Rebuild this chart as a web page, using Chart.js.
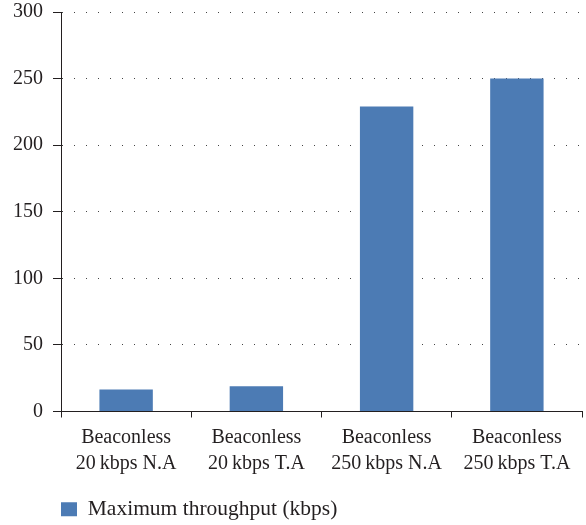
<!DOCTYPE html>
<html>
<head>
<meta charset="utf-8">
<script src="https://cdn.jsdelivr.net/npm/chart.js@4/dist/chart.umd.min.js"></script>
<style>
  html, body { margin: 0; padding: 0; background: #fff; }
  #wrap { width: 586px; height: 525px; position: relative; }
</style>
</head>
<body>
<div id="wrap"><canvas id="chart"></canvas></div>
<script>
// categories (two lines each) and the one series
const categories = [
	['Beaconless', '20\u2009kbps N.A'],
	['Beaconless', '20\u2009kbps T.A'],
	['Beaconless', '250\u2009kbps N.A'],
	['Beaconless', '250\u2009kbps T.A']
]
const seriesName = 'Maximum throughput (kbps)'
const throughput = [16.5, 19, 229, 250]
const yTicks = [0, 50, 100, 150, 200, 250, 300]

const ink = '#231f20'
const barBlue = '#4c7bb4'
const serif = '"Liberation Serif", "Times New Roman", serif'

const ctx = document.getElementById('chart')
new Chart(ctx, {
	type: 'bar',
	data: {
		labels: categories,
		datasets: [{
			label: seriesName,
			data: throughput,
			backgroundColor: barBlue,
			borderWidth: 0,
			categoryPercentage: 1,
			barPercentage: 0.41
		}]
	},
	options: {
		responsive: true,
		maintainAspectRatio: false,
		animation: false,
		layout: { padding: { top: 12, right: 4, left: 0, bottom: -5 } },
		scales: {
			x: {
				offset: true,
				grid: { offset: true, drawOnChartArea: false, tickLength: 6, color: ink, lineWidth: 1 },
				border: { color: ink, width: 1 },
				ticks: { color: ink, padding: 7, maxRotation: 0, font: { family: serif, size: 20, lineHeight: 1.3 } },
				afterFit: s => { s.height = 87 }
			},
			y: {
				min: 0,
				max: 300,
				afterBuildTicks: s => { s.ticks = yTicks.map(v => ({ value: v })) },
				grid: { color: '#444', lineWidth: 1, tickLength: 8, tickColor: ink, tickBorderDash: [] },
				border: { color: ink, width: 1, dash: [1, 11] },
				ticks: { color: ink, padding: 10, font: { family: serif, size: 20 } },
				afterFit: s => { s.width = 61; s.paddingTop = 0; s.paddingBottom = 0 }
			}
		},
		plugins: {
			tooltip: { enabled: false },
			legend: {
				position: 'bottom',
				align: 'start',
				fullSize: false,
				labels: {
					boxWidth: 16,
					boxHeight: 14,
					padding: 0,
					color: ink,
					font: { family: serif, size: 21.5 }
				}
			}
		}
	}
})
</script>
</body>
</html>
